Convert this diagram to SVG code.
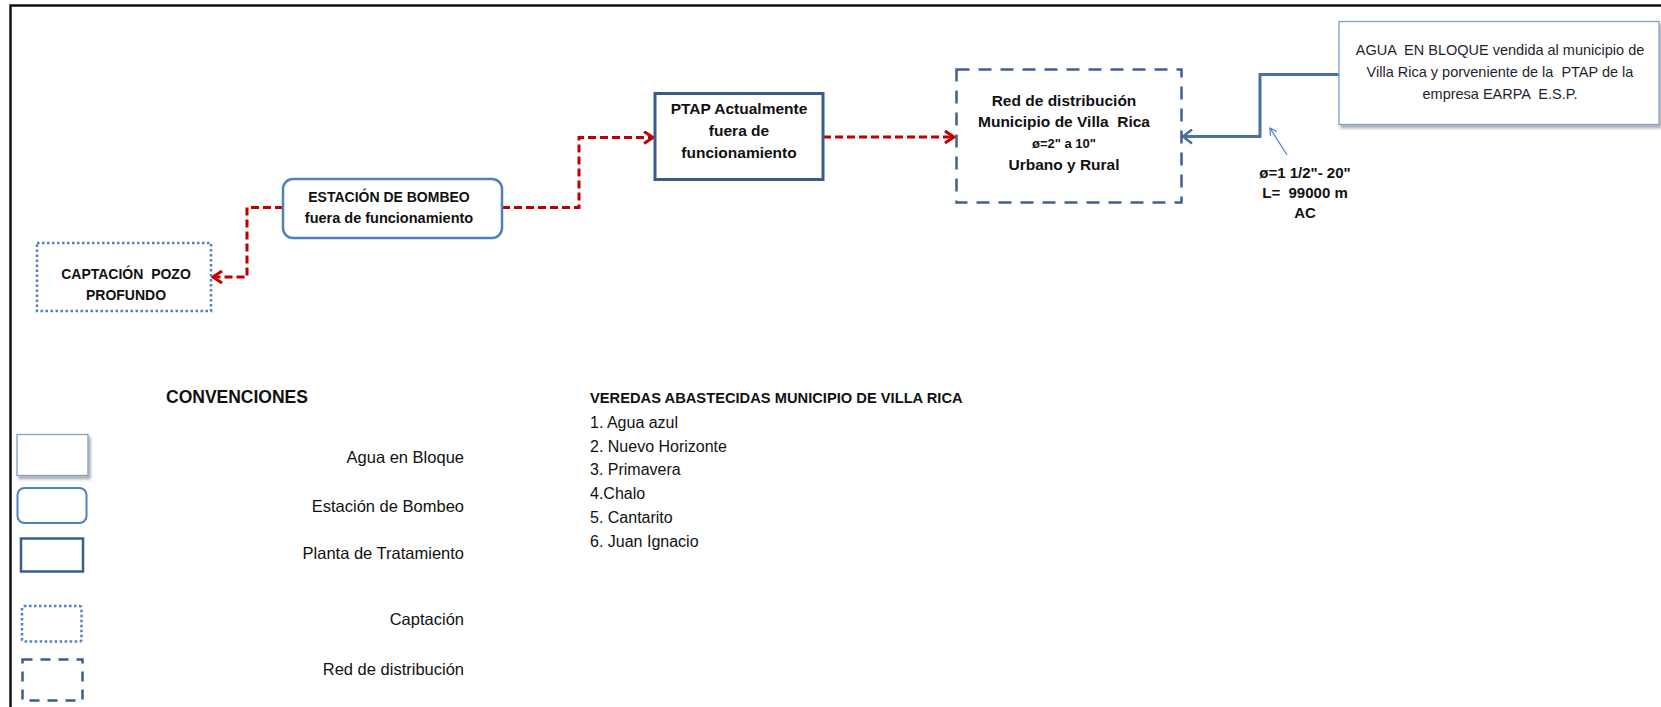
<svg xmlns="http://www.w3.org/2000/svg" width="1661" height="707" viewBox="0 0 1661 707">
<defs>
<style>
text{font-family:"Liberation Sans",Arial,sans-serif;fill:#111;white-space:pre}
.b{font-weight:bold}
.c{text-anchor:middle}
.r{text-anchor:end}
.red{fill:none;stroke:#C00000;stroke-width:3;stroke-dasharray:8 4}
.blue{fill:none;stroke:#4A6FA5;stroke-width:3}
</style>
<marker id="ar" viewBox="0 0 12 14" refX="10" refY="7" markerWidth="12" markerHeight="14" markerUnits="userSpaceOnUse" orient="auto">
<path d="M1,1 L10,7 L1,13" fill="none" stroke="#C00000" stroke-width="3"/>
</marker>
<marker id="ab" viewBox="0 0 12 16" refX="10" refY="8" markerWidth="12" markerHeight="16" markerUnits="userSpaceOnUse" orient="auto">
<path d="M1,1 L10,8 L1,15" fill="none" stroke="#4A6FA5" stroke-width="2.6"/>
</marker>
<marker id="at" viewBox="0 0 8 8" refX="7" refY="4" markerWidth="8" markerHeight="8" markerUnits="userSpaceOnUse" orient="auto">
<path d="M0,0 L7,4 L0,8" fill="none" stroke="#4F81BD" stroke-width="1.2"/>
</marker>
<filter id="sh" x="-10%" y="-10%" width="130%" height="140%">
<feDropShadow dx="2" dy="3" stdDeviation="1.5" flood-color="#000" flood-opacity="0.35"/>
</filter>
</defs>
<rect width="1661" height="707" fill="#fff"/>
<g id="frame" fill="none" stroke="#111" stroke-width="2.5">
<path d="M10.5,707 L10.5,5.5 L1661,5.5"/>
</g>

<g id="connectors">
<path class="red" d="M283,207.5 L247,207.5 L247,277 L213,277" marker-end="url(#ar)"/>
<path class="red" d="M502,207.5 L579,207.5 L579,137.5 L653,137.5" marker-end="url(#ar)"/>
<path class="red" d="M823,137 L954,137" marker-end="url(#ar)"/>
<path class="blue" d="M1339,74.5 L1260,74.5 L1260,136.5 L1183,136.5" marker-end="url(#ab)"/>
<path d="M1287,155 L1270,128" fill="none" stroke="#4F81BD" stroke-width="1.2" marker-end="url(#at)"/>
</g>

<g id="captacion">
<rect x="37" y="243" width="174" height="68" fill="#fff" stroke="#4F81BD" stroke-width="2.5" stroke-dasharray="2.5 2.5"/>
<text class="b c" x="126" y="279" font-size="14">CAPTACIÓN  POZO</text>
<text class="b c" x="126" y="300" font-size="14">PROFUNDO</text>
</g>

<g id="estacion">
<rect x="283" y="179" width="219" height="59" rx="10" fill="#fff" stroke="#4F81BD" stroke-width="2.5"/>
<text class="b c" x="389" y="202" font-size="14">ESTACIÓN DE BOMBEO</text>
<text class="b c" x="389" y="223" font-size="14.5">fuera de funcionamiento</text>
</g>

<g id="ptap">
<rect x="655" y="93.5" width="168" height="86" fill="#fff" stroke="#385D8A" stroke-width="3"/>
<text class="b c" x="739" y="114" font-size="15.5">PTAP Actualmente</text>
<text class="b c" x="739" y="136" font-size="15.5">fuera de</text>
<text class="b c" x="739" y="158" font-size="15.5">funcionamiento</text>
</g>

<g id="red">
<rect x="956.5" y="69.5" width="225" height="133" fill="#fff" stroke="#3E5F8F" stroke-width="2.5" stroke-dasharray="13 9"/>
<text class="b c" x="1064" y="106" font-size="15.5">Red de distribución</text>
<text class="b c" x="1064" y="127" font-size="15.5">Municipio de Villa  Rica</text>
<text class="b c" x="1064" y="148" font-size="13">ø=2" a 10"</text>
<text class="b c" x="1064" y="170" font-size="15.5">Urbano y Rural</text>
</g>

<g id="agua">
<rect x="1339" y="21.5" width="320" height="103" fill="#fff" stroke="#7F9FCF" stroke-width="1.3" filter="url(#sh)"/>
<text class="c" x="1500" y="55" font-size="14.5" style="fill:#1f1f2f">AGUA  EN BLOQUE vendida al municipio de</text>
<text class="c" x="1500" y="77" font-size="14.5" style="fill:#1f1f2f">Villa Rica y porveniente de la  PTAP de la</text>
<text class="c" x="1500" y="99" font-size="14.5" style="fill:#1f1f2f">empresa EARPA  E.S.P.</text>
</g>

<g id="pipe-label">
<text class="b c" x="1305" y="178" font-size="15">ø=1 1/2"- 20"</text>
<text class="b c" x="1305" y="198" font-size="15">L=  99000 m</text>
<text class="b c" x="1305" y="218" font-size="15">AC</text>
</g>

<g id="legend">
<text class="b" x="166" y="403" font-size="17.5">CONVENCIONES</text>
<rect x="17" y="434.5" width="71" height="41" fill="#fff" stroke="#7F9FCF" stroke-width="1.3" filter="url(#sh)"/>
<rect x="17.5" y="488" width="69" height="35" rx="7" fill="#fff" stroke="#4F81BD" stroke-width="2"/>
<rect x="21" y="538.5" width="62" height="33" fill="#fff" stroke="#385D8A" stroke-width="2.5"/>
<rect x="22" y="606" width="59.5" height="35.5" rx="2" fill="#fff" stroke="#4F81BD" stroke-width="2.5" stroke-dasharray="2.5 2.5"/>
<rect x="22.5" y="659.5" width="60" height="41" fill="#fff" stroke="#385D8A" stroke-width="2.5" stroke-dasharray="10 8"/>
<text class="r" x="464" y="463" font-size="16.5">Agua en Bloque</text>
<text class="r" x="464" y="511.5" font-size="16.5">Estación de Bombeo</text>
<text class="r" x="464" y="559" font-size="16.5">Planta de Tratamiento</text>
<text class="r" x="464" y="625" font-size="16.5">Captación</text>
<text class="r" x="464" y="675" font-size="16.5">Red de distribución</text>
</g>

<g id="veredas">
<text class="b" x="590" y="403" font-size="14.7">VEREDAS ABASTECIDAS MUNICIPIO DE VILLA RICA</text>
<text x="590" y="428" font-size="16">1. Agua azul</text>
<text x="590" y="451.5" font-size="16">2. Nuevo Horizonte</text>
<text x="590" y="475" font-size="16">3. Primavera</text>
<text x="590" y="499" font-size="16">4.Chalo</text>
<text x="590" y="523" font-size="16">5. Cantarito</text>
<text x="590" y="546.5" font-size="16">6. Juan Ignacio</text>
</g>
</svg>
